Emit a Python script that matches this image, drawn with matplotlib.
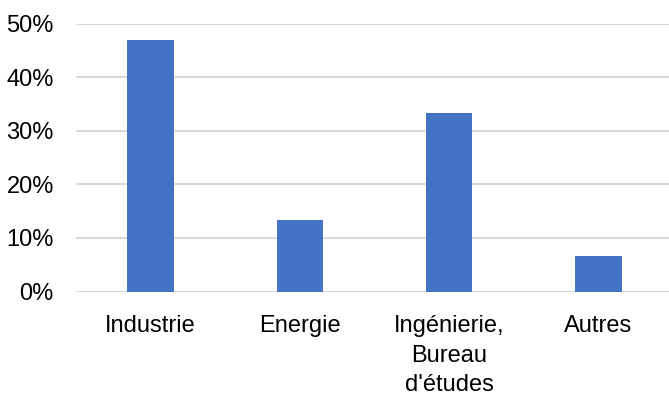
import matplotlib.pyplot as plt
from matplotlib.ticker import PercentFormatter

categories = ['Industrie', 'Energie', 'Ingénierie,\nBureau\nd\'études', 'Autres']
shares = [0.47, 0.133, 0.333, 0.067]
yticks = [0, 0.1, 0.2, 0.3, 0.4, 0.5]

plt.rcParams['font.family'] = ['Liberation Sans Narrow', 'Liberation Sans', 'DejaVu Sans']

fig = plt.figure(figsize=(6.69, 3.98), dpi=100)
ax = fig.add_axes([76 / 669, 1 - 291.5 / 398, 597 / 669, 267.5 / 398])

ax.bar(range(len(categories)), shares, width=0.31, color='#4472C4', zorder=3)

ax.set_xlim(-0.5, len(categories) - 0.5)
ax.set_ylim(0, 0.5)
ax.set_yticks(yticks)
ax.yaxis.set_major_formatter(PercentFormatter(1.0, decimals=0))
ax.set_xticks(range(len(categories)))
ax.set_xticklabels(categories, linespacing=1.45)

ax.grid(axis='y', color='#D9D9D9', linewidth=1.5, zorder=0)
for s in ax.spines.values():
    s.set_visible(False)
ax.tick_params(axis='both', length=0, labelsize=17, colors='black')
ax.tick_params(axis='y', pad=16)
ax.tick_params(axis='x', pad=17)

fig.savefig('out.png', dpi=100)
